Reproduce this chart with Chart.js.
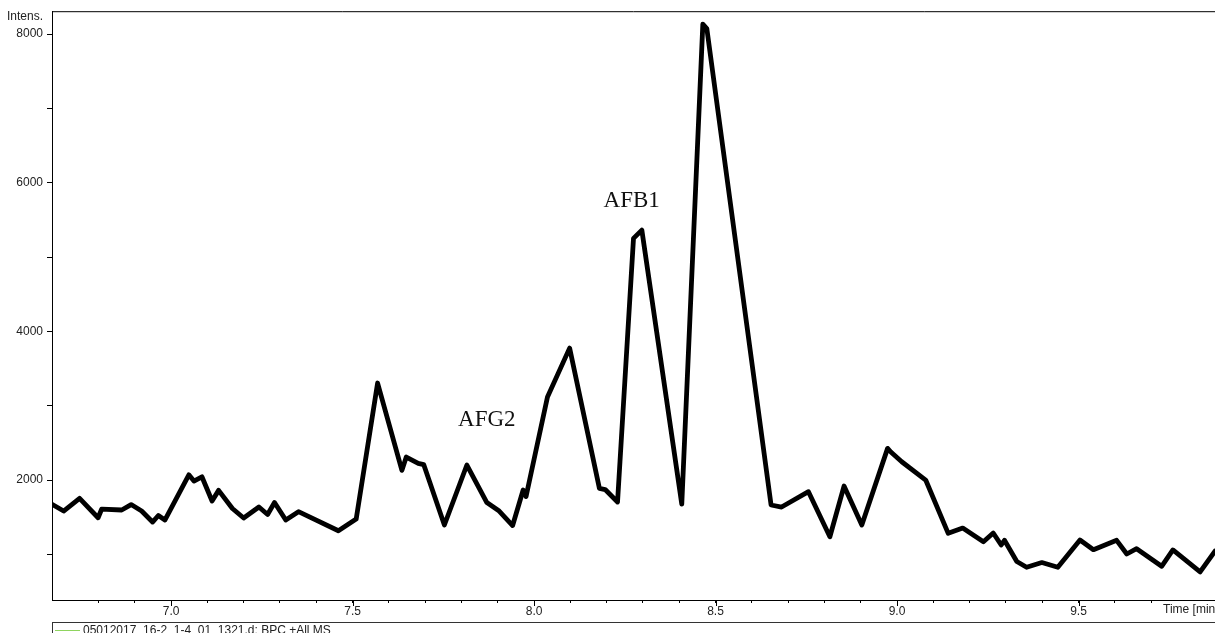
<!DOCTYPE html>
<html>
<head>
<meta charset="utf-8">
<script src="https://cdn.jsdelivr.net/npm/chart.js@4.4.1/dist/chart.umd.min.js"></script>
<style>
  html, body { margin: 0; padding: 0; background: #fff; }
  #wrap { width: 1215px; height: 633px; overflow: hidden; }
</style>
</head>
<body>
<div id="wrap"><canvas id="chart" width="1215" height="633"></canvas></div>
<script>
//retention time, min
const times = [
  6.672, 6.704, 6.748, 6.799, 6.809, 6.864, 6.890, 6.919, 6.949, 6.965,
  6.983, 7.049, 7.063, 7.085, 7.113, 7.131, 7.169, 7.200, 7.242, 7.266,
  7.285, 7.316, 7.351, 7.461, 7.510, 7.569, 7.636, 7.648, 7.681, 7.696,
  7.753, 7.815, 7.870, 7.904, 7.941, 7.970, 7.978, 8.037, 8.098, 8.180,
  8.196, 8.230, 8.274, 8.297, 8.407, 8.465, 8.476, 8.653, 8.682, 8.756,
  8.815, 8.854, 8.903, 8.974, 8.983, 9.013, 9.079, 9.141, 9.181, 9.238,
  9.265, 9.287, 9.296, 9.330, 9.357, 9.399, 9.443, 9.504, 9.541, 9.605,
  9.633, 9.660, 9.729, 9.760, 9.835, 9.876
];

//BPC intensity
const intensity = [
  1673, 1583, 1754, 1493, 1610, 1597, 1670, 1583, 1435, 1523,
  1462, 2071, 1987, 2044, 1718, 1861, 1617, 1489, 1637, 1536,
  1697, 1462, 1574, 1318, 1475, 3305, 2130, 2309, 2225, 2208,
  1395, 2202, 1697, 1583, 1388, 1866, 1778, 3116, 3775, 1888,
  1872, 1704, 5251, 5363, 1677, 8133, 8075, 1664, 1637, 1843,
  1237, 1919, 1395, 2426, 2377, 2246, 2000, 1283, 1354, 1170,
  1287, 1126, 1189, 904, 826, 890, 826, 1193, 1063, 1189,
  1005, 1076, 839, 1059, 763, 1045
];

//peak labels
const peakNames = ["AFG2", "AFB1"];
const peakTimes = [7.870, 8.269];
const peakLabelY = [2807, 5752];

//tick labels
const xTickLabels = ["7.0", "7.5", "8.0", "8.5", "9.0", "9.5"];
const yTickLabels = ["2000", "4000", "6000", "8000"];
const yMinorTicks = [1000, 2000, 3000, 4000, 5000, 6000, 7000, 8000];

const legendText = "05012017_16-2_1-4_01_1321.d: BPC +All MS";
const tickFont = { family: "Arial, 'Liberation Sans'", size: 12 };

//frame, extra texts, legend box, peak names
const extras = {
  id: "extras",
  afterDraw(chart) {
    const ctx = chart.ctx;
    const area = chart.chartArea;
    const xs = chart.scales.x;
    const ys = chart.scales.y;
    ctx.save();
    ctx.strokeStyle = "#000";
    ctx.lineWidth = 1;
    ctx.beginPath();
    ctx.moveTo(area.left, area.top + 0.5);
    ctx.lineTo(area.right, area.top + 0.5);
    ctx.stroke();

    //longer marks at labelled x ticks
    xTickLabels.forEach((lab) => {
      const px = Math.round(xs.getPixelForValue(parseFloat(lab))) + 0.5;
      ctx.beginPath();
      ctx.moveTo(px, area.bottom);
      ctx.lineTo(px, area.bottom + 6);
      ctx.stroke();
    });

    ctx.fillStyle = "#222";
    ctx.font = "12px Arial, 'Liberation Sans'";
    ctx.textBaseline = "middle";
    ctx.textAlign = "left";
    ctx.fillText("Intens.", 7, 17);
    ctx.fillText("Time [min]", 1163, 610);

    //legend
    ctx.strokeStyle = "#333";
    ctx.strokeRect(52.5, 622.5, 1200, 30);
    ctx.strokeStyle = "#8fd45f";
    ctx.beginPath();
    ctx.moveTo(55, 630.5);
    ctx.lineTo(80, 630.5);
    ctx.stroke();
    ctx.textBaseline = "alphabetic";
    ctx.fillStyle = "#222";
    ctx.fillText(legendText, 83, 633.5);

    //peak names
    ctx.font = "23px 'Liberation Serif', 'Times New Roman', serif";
    ctx.fillStyle = "#111";
    ctx.textAlign = "center";
    ctx.textBaseline = "middle";
    peakNames.forEach((name, i) => {
      ctx.fillText(name, xs.getPixelForValue(peakTimes[i]), ys.getPixelForValue(peakLabelY[i]));
    });
    ctx.restore();
  }
};

const ctx = document.getElementById("chart").getContext("2d");
new Chart(ctx, {
  type: "line",
  data: {
    datasets: [{
      label: legendText,
      data: times.map((t, i) => ({ x: t, y: intensity[i] })),
      borderColor: "#000",
      borderWidth: 4.8,
      borderJoinStyle: "round",
      borderCapStyle: "round",
      pointRadius: 0,
      tension: 0,
      fill: false
    }]
  },
  options: {
    responsive: false,
    animation: false,
    devicePixelRatio: 1,
    events: [],
    layout: { padding: { top: 11, left: 0, right: 0, bottom: 0 } },
    plugins: {
      legend: { display: false },
      tooltip: { enabled: false }
    },
    scales: {
      x: {
        type: "linear",
        min: 6.672,
        max: 9.876,
        afterFit: (scale) => { scale.height = 33; },
        afterBuildTicks: (scale) => {
          scale.ticks = scale.ticks.filter((t) => Math.abs(t.value * 10 - Math.round(t.value * 10)) < 1e-6);
        },
        border: { display: true, color: "#000", width: 1 },
        grid: { display: true, drawOnChartArea: false, tickLength: 3, tickColor: "#000" },
        ticks: {
          stepSize: 0.1,
          autoSkip: false,
          maxRotation: 0,
          padding: 1,
          color: "#222",
          font: tickFont,
          callback: (value) => {
            const s = (Math.round(value * 10) / 10).toFixed(1);
            return xTickLabels.includes(s) ? s : "";
          }
        }
      },
      y: {
        type: "linear",
        min: 386,
        max: 8308,
        afterFit: (scale) => { scale.width = 52; },
        afterBuildTicks: (scale) => {
          scale.ticks = yMinorTicks.map((v) => ({ value: v }));
        },
        border: { display: true, color: "#000", width: 1 },
        grid: { display: true, drawOnChartArea: false, tickLength: 5, tickColor: "#000" },
        ticks: {
          autoSkip: false,
          padding: 4,
          color: "#222",
          font: tickFont,
          callback: (value) => (yTickLabels.includes(String(Math.round(value))) ? String(Math.round(value)) : "")
        }
      }
    }
  },
  plugins: [extras]
});
</script>
</body>
</html>
